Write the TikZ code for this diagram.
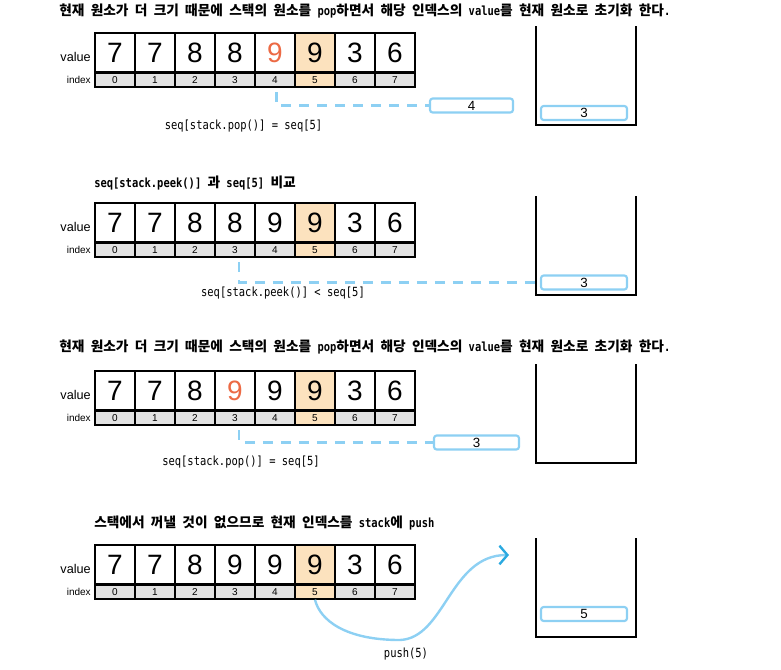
\documentclass[tikz,border=0pt]{standalone}
\usepackage{fontspec}
\setmainfont{Liberation Sans}
\newfontfamily\krfont[Scale=1.087]{Noto Sans CJK KR}
\newfontfamily\codefont[FakeStretch=0.83]{DejaVu Sans Mono}
\usetikzlibrary{arrows.meta}
\definecolor{peach}{HTML}{FCE2BE}
\definecolor{idxgray}{HTML}{E2E2E2}
\definecolor{numorange}{HTML}{EC6A45}
\definecolor{lblue}{HTML}{8DD0F3}
\definecolor{dblue}{HTML}{2AA9E0}
\newcommand\ko[1]{{\krfont #1}}
\newcommand\org[1]{\textcolor{numorange}{#1}}
\tikzset{
  valcell/.style={draw=black, line width=1.3pt, minimum width=30pt, minimum height=29.25pt, inner sep=0pt, font=\fontsize{21}{21}\selectfont},
  idxcell/.style={draw=black, line width=1.1pt, minimum width=30pt, minimum height=10.5pt, inner sep=0pt, font=\fontsize{7.5}{7.5}\selectfont},
  lbl/.style={inner sep=0pt, font=\fontsize{9.5}{10}\selectfont},
  idxlbl/.style={inner sep=0pt, font=\fontsize{7.5}{8}\selectfont},
  titletext/.style={inner sep=0pt, anchor=west, font=\fontsize{9.45}{11}\selectfont\codefont\bfseries},
  codetext/.style={inner sep=0pt, font=\fontsize{9.45}{11}\selectfont\codefont},
  stkbox/.style={draw=lblue, line width=1.6pt, rounded corners=2pt, fill=white, minimum width=64.5pt, minimum height=10.5pt, inner sep=0pt, font=\fontsize{10}{10}\selectfont},
  stackwall/.style={draw=black, line width=1.5pt},
  dashline/.style={draw=lblue, line width=2pt, dash pattern=on 7.5pt off 6pt},
  curveline/.style={draw=lblue, line width=1.8pt},
}
\newcommand\drawpanel[3]{%
  \foreach \v [count=\k from 0] in {#3} {%
    \ifnum\k=5 \def\cf{peach}\def\icf{peach}\else\def\cf{white}\def\icf{idxgray}\fi
    \node[valcell, fill=\cf] (v#1\k) at ({115+40*\k}, {#2+19.5}) {\v};
    \node[idxcell, fill=\icf] (i#1\k) at ({115+40*\k}, {#2+47}) {\k};
  }
  \node[lbl, anchor=east] (vl#1) at (91, #2+24) {value};
  \node[idxlbl, anchor=east] (il#1) at (91, #2+46.5) {index};
  \draw[stackwall] (536, #2-7) -- (536, #2+92) -- (636, #2+92) -- (636, #2-7);
}
\begin{document}
\begin{tikzpicture}[x=0.75pt, y=-0.75pt]
\useasboundingbox (0,0) rectangle (781,669);

% ---------- panel 1 ----------
\node[titletext] (t1) at (59, 11) {\ko{현재} \ko{원소가} \ko{더} \ko{크기} \ko{때문에} \ko{스택의} \ko{원소를} pop\ko{하면서} \ko{해당} \ko{인덱스의} value\ko{를} \ko{현재} \ko{원소로} \ko{초기화} \ko{한다}.};
\drawpanel{1}{33}{7,7,8,8,\org{9},9,3,6}
\node[stkbox] (s1) at (584, 113) {3};
\node[stkbox, minimum width=62.25pt] (b1) at (471.5, 105.5) {4};
\draw[dashline, shorten <=3.5pt] ([xshift=1pt]i14.south) |- (b1.west);
\node[codetext] (c1) at (243.5, 126) {seq[stack.pop()] = seq[5]};

% ---------- panel 2 ----------
\node[titletext] (t2) at (94, 183) {seq[stack.peek()] \ko{과} seq[5] \ko{비교}};
\drawpanel{2}{203}{7,7,8,8,9,9,3,6}
\node[stkbox] (s2) at (584, 282.5) {3};
\draw[dashline, shorten <=3.5pt] ([xshift=3pt]i23.south) |- (s2.west);
\node[codetext] (c2) at (283, 293) {seq[stack.peek()] < seq[5]};

% ---------- panel 3 ----------
\node[titletext] (t3) at (59, 347) {\ko{현재} \ko{원소가} \ko{더} \ko{크기} \ko{때문에} \ko{스택의} \ko{원소를} pop\ko{하면서} \ko{해당} \ko{인덱스의} value\ko{를} \ko{현재} \ko{원소로} \ko{초기화} \ko{한다}.};
\drawpanel{3}{371}{7,7,8,\org{9},9,9,3,6}
\node[stkbox, minimum width=63.75pt] (b3) at (476.5, 442.5) {3};
\draw[dashline, shorten <=3.5pt] ([xshift=3pt]i33.south) |- (b3.west);
\node[codetext] (c3) at (241, 462) {seq[stack.pop()] = seq[5]};

% ---------- panel 4 ----------
\node[titletext] (t4) at (94, 523) {\ko{스택에서} \ko{꺼낼} \ko{것이} \ko{없으므로} \ko{현재} \ko{인덱스를} stack\ko{에} push};
\drawpanel{4}{545}{7,7,8,9,9,9,3,6}
\node[stkbox] (s4) at (584, 614) {5};
\coordinate (tip4) at (509, 555);
\draw[curveline, -{Straight Barb[length=6pt, width=14pt, line width=1.8pt, color=dblue]}]
  (i45.south) .. controls (320,620) and (345,640) .. (400,640)
  .. controls (445,638) and (450,555) .. (tip4);
\node[codetext] (c4) at (406, 654) {push(5)};
\end{tikzpicture}
\end{document}
